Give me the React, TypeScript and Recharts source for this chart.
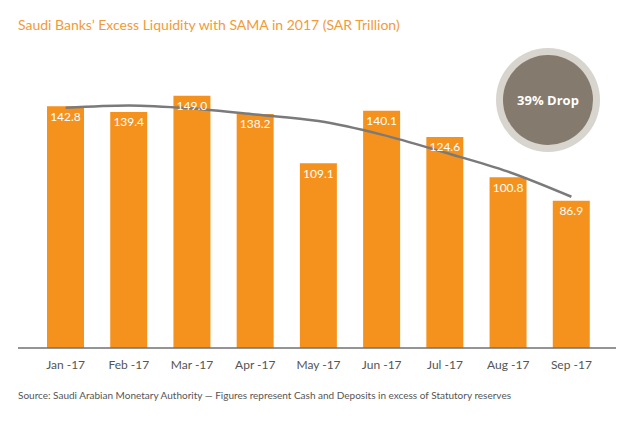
import React from 'react';
import { ComposedChart, Bar, Line, XAxis, YAxis, LabelList } from 'recharts';

const months = ['Jan -17', 'Feb -17', 'Mar -17', 'Apr -17', 'May -17', 'Jun -17', 'Jul -17', 'Aug -17', 'Sep -17'];
const liquidity = [142.8, 139.4, 149.0, 138.2, 109.1, 140.1, 124.6, 100.8, 86.9];
const trend = [141.8, 143.2, 141.4, 137.9, 134.0, 126.0, 115.4, 104.1, 89.3];

const data = months.map((m, i) => ({ month: m, value: liquidity[i], trend: trend[i] }));

const FONT = 'Lato, "Noto Sans", sans-serif';

const App: React.FC = () => {
    return (
        <div style={{ position: 'absolute', left: 0, top: 0, width: 640, height: 427, background: '#fff', fontFamily: FONT }}>
            <div style={{ position: 'absolute', left: 18, top: 16, fontSize: 14, color: '#F29A38' }}>
                Saudi Banks’ Excess Liquidity with SAMA in 2017 (SAR Trillion)
            </div>
            <ComposedChart width={640} height={380} data={data} margin={{ top: 77, right: 24, bottom: 2, left: 18 }}>
                <XAxis
                    dataKey="month"
                    axisLine={{ stroke: '#707070', strokeWidth: 1.5 }}
                    tickLine={false}
                    tickMargin={6}
                    height={30}
                    padding={{ left: 16, right: 13 }}
                    tick={{ fill: '#555', fontSize: 12, fontFamily: FONT }}
                    interval={0}
                />
                <YAxis hide domain={[0, 160]} />
                <Bar dataKey="value" fill="#F5921E" barSize={37} isAnimationActive={false}>
                    <LabelList
                        dataKey="value"
                        position="insideTop"
                        offset={6}
                        fill="#fff"
                        fontSize={12}
                        fontFamily={FONT}
                        formatter={(v: number) => v.toFixed(1)}
                    />
                </Bar>
                <Line type="monotone" dataKey="trend" stroke="#7a7a7a" strokeWidth={2.5} dot={false} isAnimationActive={false} />
            </ComposedChart>
            {/* 39% Drop badge */}
            <div style={{
                position: 'absolute', left: 548 - 52, top: 100 - 52, width: 104, height: 104, borderRadius: '50%',
                background: '#D8D4CE', display: 'flex', alignItems: 'center', justifyContent: 'center',
            }}>
                <div style={{
                    width: 90, height: 90, borderRadius: '50%', background: '#857A6E', color: '#fff',
                    display: 'flex', alignItems: 'center', justifyContent: 'center', fontWeight: 700, fontSize: 13,
                    fontFamily: '"Open Sans", sans-serif',
                }}>
                    39% Drop
                </div>
            </div>
            <div style={{ position: 'absolute', left: 18, top: 389, fontSize: 10, color: '#555' }}>
                Source: Saudi Arabian Monetary Authority — Figures represent Cash and Deposits in excess of Statutory reserves
            </div>
        </div>
    );
};

export default App;
